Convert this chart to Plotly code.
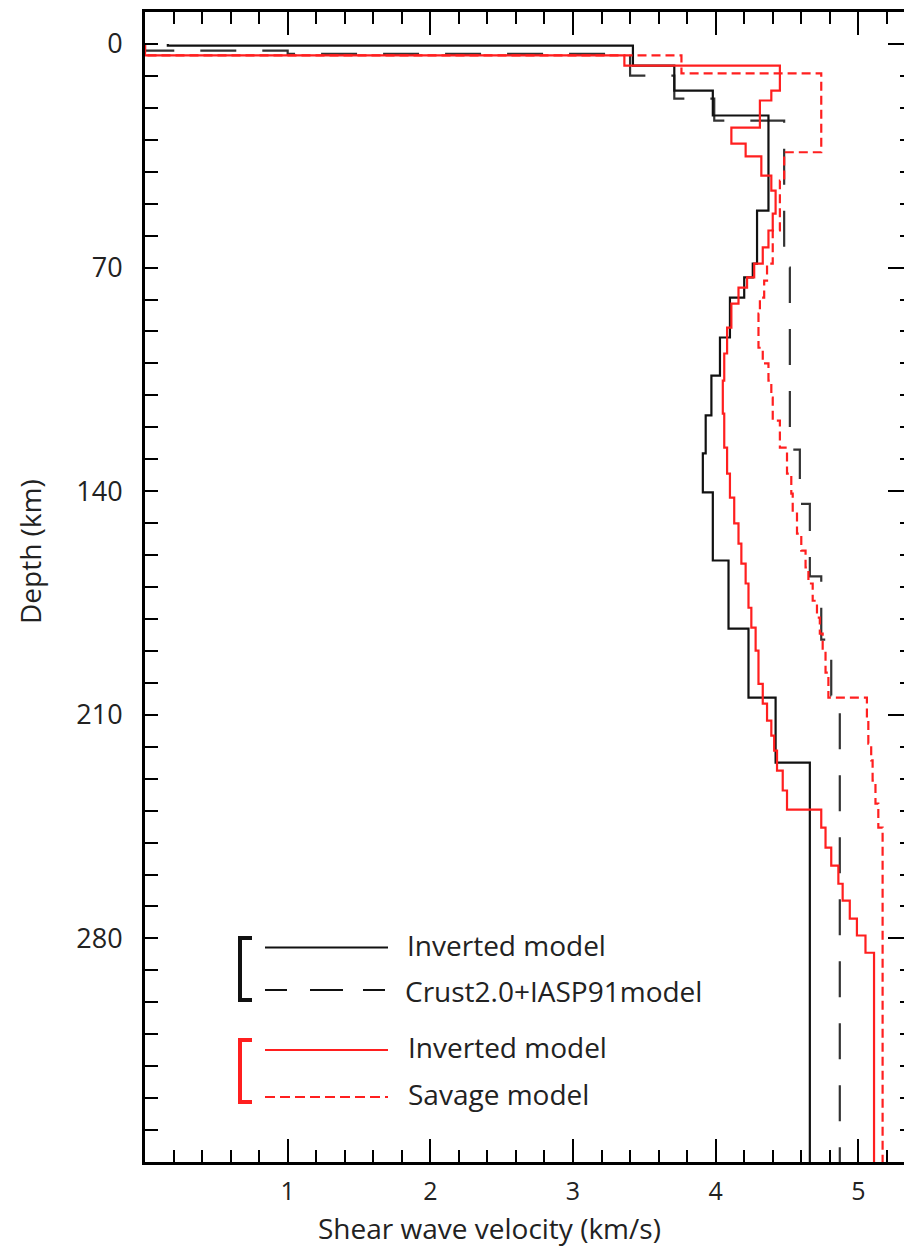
import plotly.graph_objects as go

# ---------------- data (layer top depth in km, shear velocity in km/s) ----------------
black_inv_depth = [0, 0.5, 6.8, 14.6, 22.4, 52.2, 68.8, 73.1, 79.4, 91.9, 103.8, 116.3,
                   128.2, 140.4, 161.7, 183.0, 204.6, 225.0]
black_inv_vel = [0.16, 3.42, 3.71, 3.98, 4.37, 4.29, 4.26, 4.20, 4.10, 4.03, 3.97, 3.93,
                 3.91, 3.98, 4.09, 4.23, 4.42, 4.66]

crust_depth = [0, 2.1, 3.1, 9.9, 17.1, 24.0, 70.0, 127.0, 144.0, 166.7, 186.5, 204.0]
crust_vel = [0.0, 1.0, 3.40, 3.71, 3.99, 4.48, 4.52, 4.59, 4.66, 4.74, 4.81, 4.87]

red_inv_depth = [0, 3.6, 6.8, 14.6, 17.7, 26.2, 31.2, 35.2, 41.2, 45.9, 53.1, 58.4, 63.7,
                 68.8, 73.1, 76.3, 81.3, 88.8, 96.9, 105.4, 115.7, 126.4, 134.5, 142.0,
                 150.1, 156.4, 162.7, 168.9, 176.5, 182.7, 189.9, 200.3, 206.5, 211.8,
                 216.5, 221.2, 227.5, 233.7, 239.7, 245.3, 251.6, 257.2, 262.9, 268.2,
                 273.8, 279.1, 284.5]
red_inv_vel = [0.0, 3.36, 4.45, 4.39, 4.31, 4.11, 4.21, 4.32, 4.39, 4.42, 4.40, 4.37, 4.33,
               4.27, 4.22, 4.16, 4.11, 4.08, 4.06, 4.05, 4.06, 4.08, 4.10, 4.13,
               4.16, 4.18, 4.21, 4.23, 4.25, 4.28, 4.30, 4.33, 4.36, 4.39,
               4.41, 4.43, 4.47, 4.50, 4.74, 4.77, 4.81, 4.86, 4.89, 4.94,
               4.99, 5.05, 5.11]

savage_depth = [0, 3.6, 9.2, 33.9, 42.8, 58.4, 68.8, 74.1, 79.4, 84.4, 95.1, 100.0, 105.4,
                110.7, 117.9, 126.4, 134.5, 140.8, 147.0, 153.3, 158.6, 163.9, 168.9,
                174.3, 179.6, 184.6, 189.9, 196.8, 204.6, 210.9, 219.0, 224.3, 230.6,
                237.8, 245.3]
savage_vel = [0.0, 3.76, 4.74, 4.48, 4.45, 4.40, 4.36, 4.34, 4.31, 4.30, 4.33, 4.37, 4.39,
              4.40, 4.45, 4.50, 4.53, 4.54, 4.57, 4.60, 4.63, 4.65, 4.68,
              4.71, 4.73, 4.75, 4.77, 4.79, 5.06, 5.07, 5.09, 5.10, 5.12,
              5.14, 5.17]

max_depth = 350
x_ticks = [1, 2, 3, 4, 5]
y_ticks = [0, 70, 140, 210, 280]

legend_labels = ["Inverted model", "Crust2.0+IASP91model", "Inverted model", "Savage model"]

BLACK = "#111111"
DGRAY = "#333333"
RED = "#ff1f1f"
FONT = "Open Sans"


def profile(depth, vel):
    return vel + [vel[-1]], depth + [max_depth]


fig = go.Figure()

for (d, v, color, dash, width) in [
    (crust_depth, crust_vel, DGRAY, "36px,26px", 2.2),
    (black_inv_depth, black_inv_vel, BLACK, "solid", 2.2),
    (savage_depth, savage_vel, RED, "9px,5px", 2.2),
    (red_inv_depth, red_inv_vel, RED, "solid", 2.2),
]:
    xs, ys = profile(d, v)
    fig.add_trace(go.Scatter(x=xs, y=ys, mode="lines",
                             line=dict(color=color, width=width, dash=dash, shape="vh"),
                             showlegend=False, hoverinfo="skip"))

# dummy trace for mirrored (top / right) tick axes
fig.add_trace(go.Scatter(x=[None], y=[None], xaxis="x2", yaxis="y2",
                         showlegend=False, hoverinfo="skip"))

W, H = 904, 1246
L, R, T, B = 145, 0, 12, 84
XR = [0, 5.32]
YR = [max_depth, -10]

fig.update_layout(
    width=W, height=H,
    margin=dict(l=L, r=R, t=T, b=B),
    plot_bgcolor="white", paper_bgcolor="white",
    xaxis=dict(range=XR, showgrid=False, zeroline=False,
               showline=True, linewidth=3, linecolor="black",
               tickmode="array", tickvals=x_ticks, ticktext=[str(t) for t in x_ticks],
               ticks="inside", ticklen=23, tickwidth=2, tickcolor="black",
               tickfont=dict(family=FONT, size=25, color="#222"),
               ticklabelstandoff=5,
               minor=dict(dtick=0.2, tick0=0, ticks="inside", ticklen=12,
                          tickwidth=2, tickcolor="black", showgrid=False)),
    yaxis=dict(range=YR, showgrid=False, zeroline=False,
               showline=True, linewidth=3, linecolor="black",
               tickmode="array", tickvals=y_ticks, ticktext=[str(t) for t in y_ticks],
               ticks="inside", ticklen=13, tickwidth=2, tickcolor="black",
               tickfont=dict(family=FONT, size=27, color="#222"),
               ticklabelstandoff=14,
               minor=dict(dtick=10, tick0=0, ticks="inside", ticklen=13,
                          tickwidth=2, tickcolor="black", showgrid=False)),
    xaxis2=dict(range=XR, overlaying="x", side="top", anchor="y2",
                showgrid=False, zeroline=False, showline=True, linewidth=3,
                linecolor="black", showticklabels=False,
                tickmode="array", tickvals=[0] + x_ticks,
                ticks="inside", ticklen=23, tickwidth=2, tickcolor="black",
                minor=dict(dtick=0.2, tick0=0, ticks="inside", ticklen=12,
                           tickwidth=2, tickcolor="black", showgrid=False)),
    yaxis2=dict(range=YR, overlaying="y", side="right", anchor="x2",
                showgrid=False, zeroline=False, showline=False, showticklabels=False,
                tickmode="array", tickvals=y_ticks,
                ticks="inside", ticklen=16, tickwidth=2, tickcolor="black",
                minor=dict(dtick=10, tick0=0, ticks="inside", ticklen=4,
                           tickwidth=2, tickcolor="black", showgrid=False)),
)

PW = W - L - R
PH = H - T - B


def px(x):
    return (x - L) / PW


def py(y):
    return 1 - (y - T) / PH


shapes = []
# black bracket
shapes.append(dict(type="path", xref="paper", yref="paper",
                   path=f"M {px(252)},{py(938)} L {px(240)},{py(938)} L {px(240)},{py(1000)} L {px(252)},{py(1000)}",
                   line=dict(color=BLACK, width=4)))
# red bracket
shapes.append(dict(type="path", xref="paper", yref="paper",
                   path=f"M {px(252)},{py(1040)} L {px(240)},{py(1040)} L {px(240)},{py(1102)} L {px(252)},{py(1102)}",
                   line=dict(color=RED, width=4)))
# black solid sample
shapes.append(dict(type="line", xref="paper", yref="paper", x0=px(265), x1=px(388),
                   y0=py(947.5), y1=py(947.5), line=dict(color=BLACK, width=2)))
# black dashed sample (three dashes)
for a, b in [(265, 287), (310, 343), (363, 385)]:
    shapes.append(dict(type="line", xref="paper", yref="paper", x0=px(a), x1=px(b),
                       y0=py(990), y1=py(990), line=dict(color=BLACK, width=2)))
# red solid sample
shapes.append(dict(type="line", xref="paper", yref="paper", x0=px(265), x1=px(388),
                   y0=py(1050), y1=py(1050), line=dict(color=RED, width=2)))
# red dashed sample
shapes.append(dict(type="line", xref="paper", yref="paper", x0=px(265), x1=px(388),
                   y0=py(1097), y1=py(1097), line=dict(color=RED, width=2, dash="10px,5px")))

annotations = []
for label, (lx, ly) in zip(legend_labels, [(405, 945), (403, 991), (406, 1047), (406, 1094)]):
    annotations.append(dict(xref="paper", yref="paper", x=px(lx), y=py(ly), text=label,
                            showarrow=False, xanchor="left", yanchor="middle",
                            font=dict(family=FONT, size=28, color="#222")))

annotations.append(dict(xref="paper", yref="paper", x=px(489), y=py(1228),
                        text="Shear wave velocity (km/s)", showarrow=False,
                        xanchor="center", yanchor="middle",
                        font=dict(family=FONT, size=28, color="#222")))
annotations.append(dict(xref="paper", yref="paper", x=px(30), y=py(552),
                        text="Depth (km)", showarrow=False, textangle=-90,
                        xanchor="center", yanchor="middle",
                        font=dict(family=FONT, size=28, color="#222")))

fig.update_layout(shapes=shapes, annotations=annotations)

fig.write_html("out.html")
